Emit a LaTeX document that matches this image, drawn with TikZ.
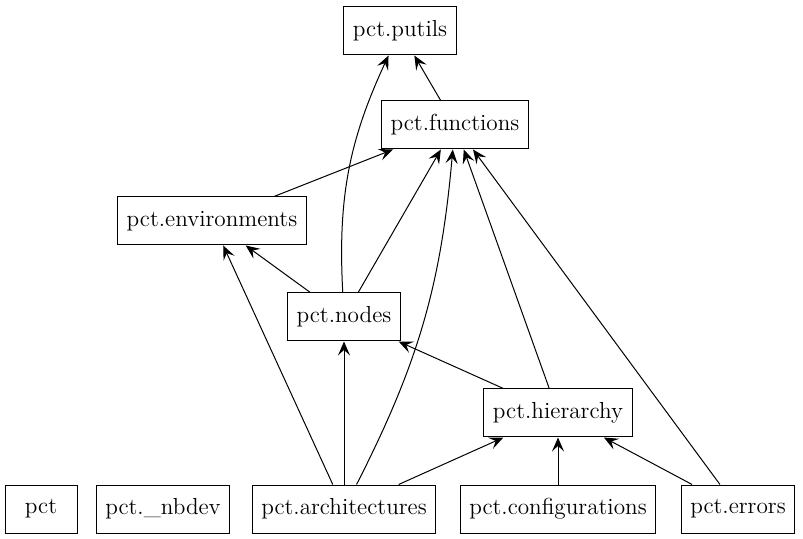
\documentclass[tikz,border=0pt]{standalone}
\usetikzlibrary{arrows.meta}
\tikzset{
  module/.style={draw, rectangle, line width=0.5pt, minimum width=36pt,
                 minimum height=24pt, inner xsep=4.5pt,
                 font=\fontsize{11.6}{13}\selectfont},
  dep/.style={-{Stealth[length=7pt,width=6pt,inset=2.8pt]}, line width=0.5pt},
}
\begin{document}
\begin{tikzpicture}[x=0.5pt,y=0.5pt]
\useasboundingbox (0,0) rectangle (803,-539);

% rank 0
\node[module] (putils)    at (400,-31)  {pct.putils};
% rank 1
\node[module] (functions) at (455,-125) {pct.functions};
% rank 2
\node[module] (envs)      at (212,-221) {pct.environments};
% rank 3
\node[module] (nodes)     at (344,-317) {pct.nodes};
% rank 4
\node[module] (hierarchy) at (558,-413) {pct.hierarchy};
% rank 5
\node[module] (pct)       at (41,-509)  {pct};
\node[module] (nbdev)     at (163,-509) {pct.\_nbdev};
\node[module] (archs)     at (344,-509) {pct.architectures};
\node[module] (configs)   at (558,-509) {pct.configurations};
\node[module] (errors)    at (738,-509) {pct.errors};

% imports
\draw[dep] (functions) -- (putils);
\draw[dep] (envs) -- (functions);
\draw[dep] (nodes) to[bend left=14] (putils);
\draw[dep] (nodes) -- (functions);
\draw[dep] (nodes) -- (envs);
\draw[dep] (hierarchy) -- (nodes);
\draw[dep] (hierarchy) -- (functions);
\draw[dep] (archs) -- (envs);
\draw[dep] (archs) -- (nodes);
\draw[dep] (archs) to[bend right=11] (functions);
\draw[dep] (archs) -- (hierarchy);
\draw[dep] (configs) -- (hierarchy);
\draw[dep] (errors) -- (hierarchy);
\draw[dep] (errors) -- (functions);

\end{tikzpicture}
\end{document}
